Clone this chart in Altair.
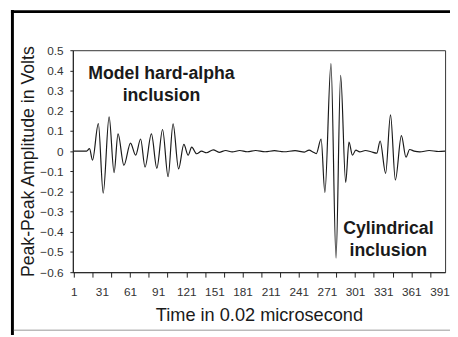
import altair as alt
import pandas as pd

# waveform samples read at peaks / troughs / crossings
time = [1, 14.7, 17.8, 21, 27.2, 32.4, 38.7, 44, 48.2, 54.5, 61.5, 67, 72.3, 77,
        83.8, 89.6, 95.7, 101.6, 106.9, 112.8, 118.4, 123, 126.8, 132, 137.3,
        142.5, 149.8, 156, 163, 170, 178, 186, 195, 205, 215, 225, 237, 247,
        252, 256, 259.6, 264.8, 268.8, 275.3, 280.7, 285.6, 291, 294.5, 298.2,
        301.8, 306, 312, 318, 324.2, 327.7, 333.6, 338.8, 344, 350.4, 355.3,
        359.2, 364, 370, 380, 390, 397]
volts = [0, 0, 0.012, -0.045, 0.136, -0.208, 0.17, -0.107, 0.085, -0.07, 0.04,
         -0.02, 0.06, -0.079, 0.085, -0.085, 0.107, -0.127, 0.135, -0.088, 0.033,
         -0.02, 0.02, -0.013, 0.0, -0.008, 0.006, -0.006, 0.003, -0.004, 0.003,
         -0.003, 0.003, -0.003, 0.002, -0.003, 0.002, -0.005, 0.005, -0.004,
         -0.012, 0.06, -0.205, 0.434, -0.53, 0.375, -0.155, 0.045, -0.02, 0.005,
         -0.004, 0.003, -0.003, -0.01, 0.05, -0.11, 0.18, -0.143, 0.077, -0.03,
         0.008, 0.0, -0.004, 0.003, -0.002, 0]

label_text = ["Model hard-alpha", "inclusion", "Cylindrical", "inclusion"]
label_x = [94.5, 94.5, 336.5, 336.5]
label_y = [0.357, 0.247, -0.411, -0.522]

x_ticks = list(range(1, 392, 10))
y_ticks = [round(-0.6 + 0.1 * i, 1) for i in range(12)]

FONT = "Liberation Sans"

wave = pd.DataFrame({"t": time, "v": volts})
labels = pd.DataFrame({"text": label_text, "t": label_x, "v": label_y})

x_scale = alt.Scale(domain=[0, 397], nice=False, zero=False)
y_scale = alt.Scale(domain=[-0.6, 0.5], nice=False, zero=False)

x_axis = alt.Axis(values=x_ticks,
                  labelExpr="(datum.value - 1) % 30 == 0 ? datum.label : ''",
                  tickOpacity={"condition": {"test": "(datum.value - 1) % 20 == 0", "value": 1}, "value": 0},
                  tickSize=5, labelPadding=10, labelOverlap=False,
                  labelFlush=False, grid=False, titleFontSize=18.5,
                  titleY=49, titleBaseline="alphabetic")
y_axis = alt.Axis(values=y_ticks, format=".1~f", tickSize=3,
                  labelPadding=7, grid=False, labelOverlap=False,
                  labelFlush=False, titleFontSize=18,
                  titleX=-40, titleBaseline="alphabetic")

X_TITLE = "Time in 0.02 microsecond"
Y_TITLE = "Peak-Peak Amplitude in Volts"

line = alt.Chart(wave).mark_line(
    color="#1a1a1a", strokeWidth=1.2, interpolate="monotone"
).encode(
    x=alt.X("t:Q", scale=x_scale, title=X_TITLE, axis=x_axis),
    y=alt.Y("v:Q", scale=y_scale, title=Y_TITLE, axis=y_axis),
)

text = alt.Chart(labels).mark_text(
    font=FONT, fontSize=18, fontWeight="bold", color="#1a1a1a",
    baseline="alphabetic", align="center"
).encode(
    x=alt.X("t:Q", scale=x_scale, title=X_TITLE, axis=x_axis),
    y=alt.Y("v:Q", scale=y_scale, title=Y_TITLE, axis=y_axis),
    text="text:N",
)

deco = pd.DataFrame({"k": [0]})
left_border = alt.Chart(deco).mark_rule(color="black", strokeWidth=3).encode(
    x=alt.value(-61.5), y=alt.value(-41), y2=alt.value(290))
top_border = alt.Chart(deco).mark_rule(color="black", strokeWidth=3).encode(
    x=alt.value(-63), x2=alt.value(384), y=alt.value(-39.3))
bottom_line = alt.Chart(deco).mark_rule(color="#bbbbbb", strokeWidth=1.5).encode(
    x=alt.value(-60), x2=alt.value(384), y=alt.value(285))

chart = alt.layer(line, text, left_border, top_border, bottom_line).properties(
    width=379, height=226,
    background="white",
    autosize=alt.AutoSizeParams(type="none"),
    padding={"left": 66, "top": 40, "right": 5, "bottom": 63},
).configure_view(stroke="#333333", strokeWidth=1).configure_axis(
    labelFont=FONT, titleFont=FONT, labelFontSize=12, titleFontSize=17.5,
    titleFontWeight="normal", labelColor="#333333", titleColor="#1a1a1a",
    domainColor="#222222", tickColor="#222222"
)

chart.save("out.html", embed_options={"renderer": "svg", "actions": False})
